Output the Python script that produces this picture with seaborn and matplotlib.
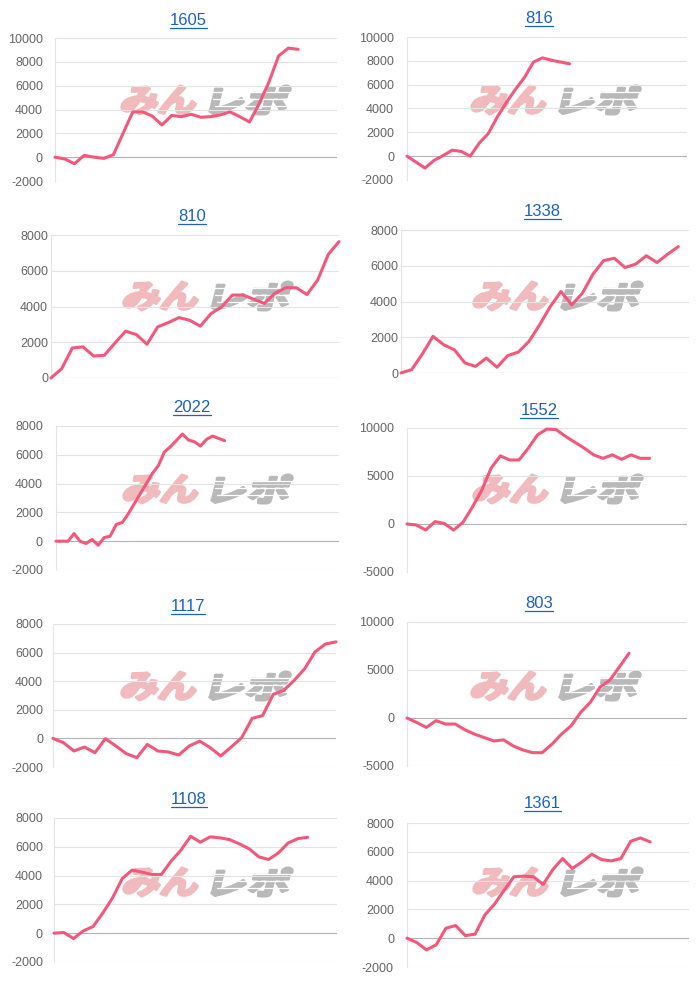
import numpy as np
import pandas as pd
import matplotlib
matplotlib.use("Agg")
import matplotlib.pyplot as plt
import seaborn as sns
from matplotlib.textpath import TextPath
from matplotlib.font_manager import FontProperties
from matplotlib.patches import PathPatch
from matplotlib.transforms import Affine2D
from matplotlib.lines import Line2D

# ---------------- data ----------------
titles = ["1605", "816", "810", "1338", "2022", "1552", "1117", "803", "1108", "1361"]

s1605 = [0, -150, -550, 150, 0, -100, 200, 2000, 3800, 3800, 3450, 2700, 3500, 3400,
         3600, 3350, 3400, 3550, 3800, 3400, 2950, 4500, 6300, 8500, 9150, 9050]
s816 = [0, -500, -1000, -350, 50, 500, 400, 0, 1100, 1900, 3300, 4500, 5600, 6600,
        7900, 8250, 8050, 7900, 7750]
s810 = [0, 520, 1680, 1740, 1230, 1270, 1960, 2620, 2430, 1890, 2860, 3100, 3380, 3230,
        2900, 3600, 3980, 4640, 4640, 4410, 4170, 4740, 5050, 5050, 4670, 5480, 6920, 7630]
s1338 = [0, 190, 1060, 2050, 1580, 1300, 560, 370, 840, 320, 970, 1170, 1770, 2700,
         3720, 4560, 3810, 4460, 5530, 6290, 6420, 5900, 6090, 6560, 6180, 6650, 7070]
s2022 = [0, 0, 0, 530, 0, -160, 120, -280, 250, 350, 1160, 1300, 1900, 2600, 3300,
         4000, 4700, 5250, 6200, 6560, 7000, 7440, 7030, 6900, 6610, 7070, 7300, 7140, 6980]
s1552 = [0, -100, -630, 250, 50, -630, 180, 1750, 3500, 5800, 7100, 6670, 6670, 7900,
         9300, 9900, 9820, 9120, 8500, 7900, 7200, 6840, 7200, 6740, 7200, 6840, 6840]
s1117 = [0, -300, -880, -600, -1000, -20, -530, -1070, -1350, -420, -880, -950, -1160,
         -530, -190, -650, -1230, -600, 50, 1400, 1600, 3070, 3350, 4050, 4860, 6050, 6600, 6750]
s803 = [0, -460, -980, -280, -630, -630, -1230, -1680, -2040, -2390, -2280, -2910, -3330,
        -3610, -3610, -2740, -1680, -810, 600, 1650, 3230, 3930, 5330, 6740]
s1108 = [0, 50, -370, 160, 460, 1400, 2450, 3800, 4380, 4240, 4080, 4080, 5000, 5760,
         6730, 6320, 6690, 6620, 6500, 6200, 5860, 5300, 5120, 5580, 6270, 6570, 6660]
s1361 = [0, -300, -810, -460, 690, 880, 180, 280, 1610, 2370, 3340, 4270, 4310, 4270,
         3730, 4770, 5530, 4840, 5300, 5830, 5460, 5370, 5530, 6730, 6960, 6690]

series = [s1605, s816, s810, s1338, s2022, s1552, s1117, s803, s1108, s1361]
n_categories = [30, 32, 28, 28, 48, 31, 28, 30, 30, 30]
y_min = [-2000, -2000, 0, 0, -2000, -5000, -2000, -5000, -2000, -2000]
y_max = [10000, 10000, 8000, 8000, 8000, 10000, 8000, 10000, 8000, 8000]
y_step = [2000, 2000, 2000, 2000, 2000, 5000, 2000, 5000, 2000, 2000]

# ---------------- layout (pixels) ----------------
W, H = 700, 981
plot_left = [55, 407, 51, 401, 56, 407, 53, 407, 54, 407]
plot_right = [337, 687, 339, 689, 339, 687, 336, 687, 337, 689]
plot_top = [38, 37, 235, 230, 426, 428, 624, 622, 818, 823]
plot_bottom = [181, 180, 378, 373, 570, 572, 767, 766, 962, 967]
label_pad_px = [12, 13, 3, 3, 13, 13, 10, 13, 11, 13]
title_x = [188, 539, 192, 542, 192, 539, 188, 539, 189, 542]
title_base = [25, 23, 221, 216, 412, 415, 611, 608, 804, 808]
wm_top = [85, 85, 281, 281, 474, 474, 671, 671, 867, 867]
wm_left = [119, 469, 121, 471, 121, 471, 119, 469, 121, 471]

LINE_COLOR = "#f5577a"
GRID_COLOR = "#e4e4e4"
ZERO_COLOR = "#b4b4b4"
TICK_COLOR = "#666666"
TITLE_COLOR = "#1a62c4"

sns.set_style("white")
plt.rcParams["font.family"] = ["Liberation Sans", "DejaVu Sans"]

fig = plt.figure(figsize=(W / 100, H / 100), dpi=100)
fig.patch.set_facecolor("white")


def px_to_fig(x, y):
    return x / W, 1 - y / H


def add_logo_text(text, x_left, y_top, width, height, color, skew=14, bold=2.2):
    fp = FontProperties(family="Noto Sans CJK JP", weight="bold")
    tp = TextPath((0, 0), text, size=100, prop=fp)
    bb = tp.get_extents()
    sy = height / bb.height
    sx = (width - height * np.tan(np.radians(skew))) / bb.width
    tr = (Affine2D().translate(-bb.x0, -bb.y0).scale(sx, sy).skew_deg(skew, 0)
          .translate(x_left, H - y_top - height).scale(1 / W, 1 / H) + fig.transFigure)
    patch = PathPatch(tp, facecolor=color, edgecolor=color, linewidth=bold,
                      joinstyle="round", transform=tr, zorder=0)
    fig.add_artist(patch)
    return patch


def add_watermark(x_left, y_top):
    add_logo_text("みん", x_left + 1, y_top + 1, 80, 28, "#f1babc")
    add_logo_text("レポ", x_left + 90, y_top + 1, 82, 28, "#b9b9b9")
    # speed stripes on the right part of the logo
    for k, dy in enumerate([7, 14, 21]):
        x0 = x_left + 92 + k * 2
        fig.add_artist(Line2D([x0 / W, (x0 + 84) / W], [1 - (y_top + dy) / H] * 2,
                              color="white", lw=0.9, zorder=0.5, transform=fig.transFigure))


for i in range(10):
    add_watermark(wm_left[i], wm_top[i])

title_texts = []
for i in range(10):
    x0, y0 = px_to_fig(plot_left[i], plot_bottom[i])
    w = (plot_right[i] - plot_left[i]) / W
    h = (plot_bottom[i] - plot_top[i]) / H
    ax = fig.add_axes([x0, y0, w, h])
    ax.patch.set_alpha(0)
    ax.set_zorder(2)

    vals = series[i]
    df = pd.DataFrame({"x": np.arange(len(vals)), "y": vals})
    sns.lineplot(data=df, x="x", y="y", ax=ax, color=LINE_COLOR, linewidth=2.2,
                 clip_on=False, zorder=5)

    ax.set_xlim(0, n_categories[i] - 1)
    ax.set_ylim(y_min[i], y_max[i])
    ticks = np.arange(y_min[i], y_max[i] + 1, y_step[i])
    ax.set_yticks(ticks)
    ax.set_yticklabels([str(int(t)) for t in ticks])
    ax.set_xticks([])
    ax.set_xlabel("")
    ax.set_ylabel("")
    ax.tick_params(axis="y", length=0, pad=label_pad_px[i] * 0.72, labelsize=9,
                   labelcolor=TICK_COLOR)
    for t in ticks:
        ax.axhline(t, color=ZERO_COLOR if t == 0 else GRID_COLOR, lw=0.8, zorder=1)
    for side in ["top", "right", "bottom"]:
        ax.spines[side].set_visible(False)
    ax.spines["left"].set_color(GRID_COLOR)
    ax.spines["left"].set_linewidth(0.8)

    tx, ty = px_to_fig(title_x[i], title_base[i])
    t = fig.text(tx, ty, titles[i], ha="center", va="baseline", fontsize=12,
                 color=TITLE_COLOR)
    title_texts.append(t)

fig.canvas.draw()
renderer = fig.canvas.get_renderer()
for i, t in enumerate(title_texts):
    bb = t.get_window_extent(renderer)
    yy = 1 - (title_base[i] + 2.5) / H
    fig.add_artist(Line2D([bb.x0 / W, bb.x1 / W], [yy, yy], color=TITLE_COLOR,
                          lw=0.9, transform=fig.transFigure))

fig.savefig("out.png", dpi=100, facecolor="white")
